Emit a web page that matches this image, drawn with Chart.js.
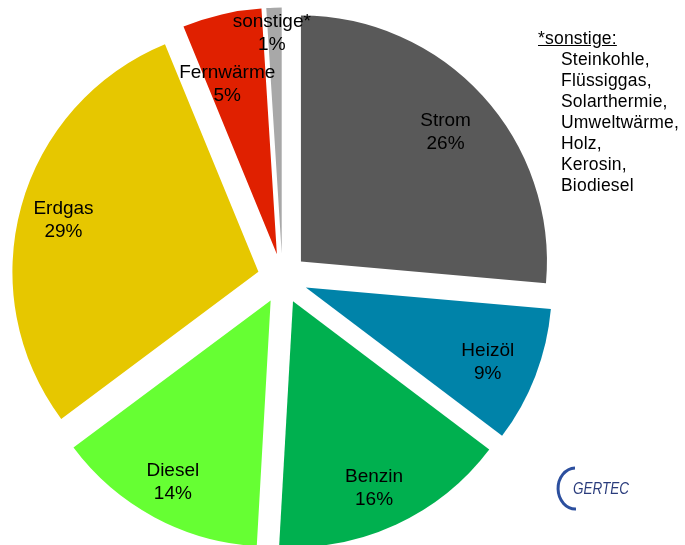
<!DOCTYPE html>
<html>
<head>
<meta charset="utf-8">
<script src="https://cdn.jsdelivr.net/npm/chart.js@4"></script>
<style>
  body { margin: 0; background: #fff; font-family: "Liberation Sans", Arial, sans-serif; }
  #wrap { position: relative; width: 685px; height: 545px; }
  #note { position: absolute; left: 538px; top: 28px; font-size: 17.5px; line-height: 21px; letter-spacing: 0.2px; color: #000; }
  #note .head { text-decoration: underline; }
  #note .item { padding-left: 23px; }
  #logo { position: absolute; left: 552px; top: 462px; }
</style>
</head>
<body>
<div id="wrap">
  <canvas id="energyChart" width="685" height="545"></canvas>
  <div id="note">
    <div class="head">*sonstige:</div>
    <div class="item">Steinkohle,</div>
    <div class="item">Flüssiggas,</div>
    <div class="item">Solarthermie,</div>
    <div class="item">Umweltwärme,</div>
    <div class="item">Holz,</div>
    <div class="item">Kerosin,</div>
    <div class="item">Biodiesel</div>
  </div>
  <svg id="logo" width="90" height="52" viewBox="0 0 90 52">
    <path d="M23 6 A17 20 0 1 0 24 47" fill="none" stroke="#2c4f9e" stroke-width="3"/>
    <text x="21" y="32" font-family="Liberation Sans, sans-serif" font-style="italic" font-size="16" textLength="56" lengthAdjust="spacingAndGlyphs" fill="#2a3c7c">GERTEC</text>
  </svg>
</div>
<script>
const labels = ['Strom', 'Heizöl', 'Benzin', 'Diesel', 'Erdgas', 'Fernwärme', 'sonstige*'];
const shares = [26.4, 8.9, 15.6, 13.9, 29.0, 5.2, 1.0];
const colors = ['#595959', '#0083a9', '#00b04f', '#66ff33', '#e6c700', '#e02000', '#a8a8a8'];

// each slice is pushed this many pixels away from the centre (Chart.js divides offset by 4)
const shift = 25;
const pieRadius = 246;
const labelRadius = [0.79, 0.80, 0.83, 0.84, 0.82, 0.72, 0.895];
const labelTurn = [0.5, 1.2, 1.3, 0, -0.5, -2.9, -0.7];

// undo Chart.js growing/narrowing small exploded slices so every slice keeps the same radius
const evenSlices = {
  id: 'evenSlices',
  afterUpdate(chart) {
    const meta = chart.getDatasetMeta(0);
    const R = meta.controller.outerRadius;
    meta.data.forEach(arc => {
      const fix = 1 - Math.sin(Math.min(Math.PI, arc.circumference));
      const grow = shift * fix;
      arc.outerRadius = R - grow;
      const widen = grow / (2 * Math.PI * R);
      arc.startAngle -= widen;
      arc.endAngle += widen;
    });
  }
};

const sliceLabels = {
  id: 'sliceLabels',
  afterDatasetsDraw(chart) {
    const ctx = chart.ctx;
    const meta = chart.getDatasetMeta(0);
    const R = meta.controller.outerRadius;
    ctx.save();
    ctx.font = '19px "Liberation Sans", Arial, sans-serif';
    ctx.fillStyle = '#000';
    ctx.textAlign = 'center';
    ctx.textBaseline = 'middle';
    meta.data.forEach((arc, i) => {
      const mid = (arc.startAngle + arc.endAngle) / 2 + labelTurn[i] * Math.PI / 180;
      const d = shift + labelRadius[i] * R;
      const x = arc.x + Math.cos(mid) * d;
      const y = arc.y + Math.sin(mid) * d;
      ctx.fillText(labels[i], x, y - 11.5);
      ctx.fillText(Math.round(shares[i]) + '%', x, y + 11.5);
    });
    ctx.restore();
  }
};

new Chart(document.getElementById('energyChart'), {
  type: 'pie',
  data: {
    labels: labels,
    datasets: [{
      data: shares,
      backgroundColor: colors,
      borderWidth: 0,
      offset: shift * 4,
      hoverOffset: 0,
      radius: pieRadius,
      clip: false
    }]
  },
  options: {
    responsive: false,
    animation: false,
    events: [],
    layout: { padding: { left: 0, right: 120, top: 12, bottom: 0 } },
    plugins: {
      legend: { display: false },
      tooltip: { enabled: false }
    }
  },
  plugins: [evenSlices, sliceLabels]
});
</script>
</body>
</html>
